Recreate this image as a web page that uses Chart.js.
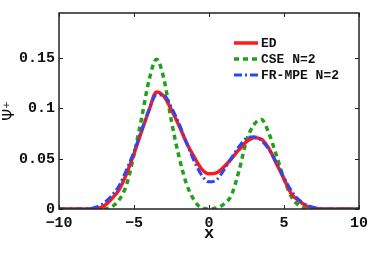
<!DOCTYPE html>
<html>
<head>
<meta charset="utf-8">
<script src="https://cdn.jsdelivr.net/npm/chart.js@4/dist/chart.umd.min.js"></script>
<style>
  html, body { margin: 0; padding: 0; background: #fff; }
  #wrap { width: 374px; height: 253px; }
</style>
</head>
<body>
<div id="wrap"><canvas id="psiChart" width="374" height="253"></canvas></div>
<script>
const xs = [-10, -9.5, -9, -8.5, -8, -7.5, -7, -6.5, -6, -5.5, -5, -4.5, -4, -3.5, -3, -2.5, -2, -1.5, -1, -0.5,
  0, 0.5, 1, 1.5, 2, 2.5, 3, 3.5, 4, 4.5, 5, 5.5, 6, 6.5, 7, 7.5, 8, 8.5, 9, 9.5, 10];
const edValues = [0, 0, 0, 0, 0, 0.0005, 0.003, 0.010, 0.019, 0.035, 0.055, 0.077, 0.098, 0.1165, 0.112, 0.0985, 0.083, 0.066, 0.052, 0.040,
  0.035, 0.036, 0.042, 0.050, 0.059, 0.067, 0.071, 0.0695, 0.060, 0.045, 0.030, 0.015, 0.008, 0.003, 0.001, 0, 0, 0, 0, 0, 0];
const cseValues = [0, 0, 0, 0, 0, 0, 0, 0.002, 0.009, 0.024, 0.054, 0.090, 0.128, 0.149, 0.129, 0.087, 0.052, 0.025, 0.009, 0.001,
  0, 0.001, 0.005, 0.014, 0.038, 0.068, 0.084, 0.089, 0.075, 0.053, 0.030, 0.012, 0.0035, 0.0005, 0, 0, 0, 0, 0, 0, 0];
const frmpeValues = [0, 0, 0, 0, 0.0003, 0.002, 0.006, 0.013, 0.023, 0.039, 0.057, 0.078, 0.099, 0.1135, 0.113, 0.101, 0.085, 0.066, 0.048, 0.034,
  0.027, 0.029, 0.039, 0.051, 0.062, 0.0705, 0.072, 0.068, 0.059, 0.046, 0.031, 0.018, 0.009, 0.004, 0.0015, 0.0003, 0, 0, 0, 0, 0];
const seriesNames = ["ED", "CSE N=2", "FR-MPE N=2"];
const xTickValues = [-10, -5, 0, 5, 10];
const xTickLabels = ["\u221210", "\u22125", "0", "5", "10"];
const yTickValues = [0, 0.05, 0.1, 0.15];
const yTickLabels = ["0", "0.05", "0.1", "0.15"];

const monoBold = { family: "'Liberation Mono', 'DejaVu Sans Mono', monospace", weight: "bold", size: 15 };

function toPoints(vals) {
  return xs.map((x, i) => ({ x: x, y: vals[i] }));
}

// box round the plot with inward tick marks
const framePlugin = {
  id: "frame",
  afterDraw(chart) {
    const { ctx, chartArea: a, scales } = chart;
    ctx.save();
    ctx.strokeStyle = "#222";
    ctx.lineWidth = 1.5;
    ctx.strokeRect(a.left, a.top, a.right - a.left, a.bottom - a.top);
    ctx.lineWidth = 1;
    ctx.beginPath();
    xTickValues.forEach(v => {
      const px = Math.round(scales.x.getPixelForValue(v)) + 0.5;
      ctx.moveTo(px, a.bottom); ctx.lineTo(px, a.bottom - 4);
      ctx.moveTo(px, a.top); ctx.lineTo(px, a.top + 4);
    });
    yTickValues.forEach(v => {
      const py = Math.round(scales.y.getPixelForValue(v)) + 0.5;
      ctx.moveTo(a.left, py); ctx.lineTo(a.left + 4, py);
      ctx.moveTo(a.right, py); ctx.lineTo(a.right - 4, py);
    });
    ctx.stroke();
    ctx.restore();
  },
};

// legend drawn inside the top right of the plot
const legendPlugin = {
  id: "insideLegend",
  afterDraw(chart) {
    const { ctx, chartArea: a } = chart;
    const x0 = a.right - 125, x1 = a.right - 101, tx = a.right - 98;
    const rows = [a.top + 30, a.top + 46, a.top + 62];
    ctx.save();
    chart.data.datasets.forEach((ds, i) => {
      ctx.strokeStyle = ds.borderColor;
      ctx.lineWidth = ds.borderWidth;
      ctx.setLineDash(ds.borderDash || []);
      ctx.beginPath();
      ctx.moveTo(x0, rows[i]);
      ctx.lineTo(x1, rows[i]);
      ctx.stroke();
      ctx.setLineDash([]);
      ctx.fillStyle = "#111";
      ctx.font = "bold 13px 'Liberation Mono', 'DejaVu Sans Mono', monospace";
      ctx.textBaseline = "middle";
      ctx.fillText(seriesNames[i], tx, rows[i] + 1);
    });
    ctx.restore();
  },
};

const psiChart = new Chart(document.getElementById("psiChart"), {
  type: "line",
  data: {
    datasets: [
      {
        label: seriesNames[0],
        data: toPoints(edValues),
        borderColor: "#ff1a1a",
        borderWidth: 3.5,
        pointRadius: 0,
        cubicInterpolationMode: "monotone",
        order: 2,
      },
      {
        label: seriesNames[1],
        data: toPoints(cseValues),
        borderColor: "#22a01a",
        borderWidth: 3.5,
        borderDash: [5, 4],
        pointRadius: 0,
        cubicInterpolationMode: "monotone",
        order: 3,
      },
      {
        label: seriesNames[2],
        data: toPoints(frmpeValues),
        borderColor: "#2a48f0",
        borderWidth: 3,
        borderDash: [8, 3, 2, 3],
        pointRadius: 0,
        cubicInterpolationMode: "monotone",
        order: 1,
      },
    ],
  },
  options: {
    responsive: false,
    animation: false,
    layout: { padding: { top: 11, right: 15, left: 0, bottom: 0 } },
    plugins: {
      legend: { display: false },
      tooltip: { enabled: false },
    },
    scales: {
      x: {
        type: "linear",
        min: -10,
        max: 10,
        afterBuildTicks: (scale) => { scale.ticks = xTickValues.map(v => ({ value: v })); },
        afterFit: (scale) => { scale.height = 44; },
        ticks: {
          color: "#111",
          font: monoBold,
          padding: 5,
          maxRotation: 0,
          callback: (v) => xTickLabels[xTickValues.indexOf(v)],
        },
        grid: { display: false, drawTicks: false },
        border: { display: false },
        title: {
          display: true,
          text: "x",
          color: "#111",
          font: { family: "'Liberation Mono', 'DejaVu Sans Mono', monospace", weight: "bold", size: 17 },
          padding: { top: 0, bottom: 9 },
        },
      },
      y: {
        min: 0,
        max: 0.195,
        afterBuildTicks: (scale) => { scale.ticks = yTickValues.map(v => ({ value: v })); },
        afterFit: (scale) => { scale.width = 59; },
        ticks: {
          color: "#111",
          font: monoBold,
          padding: 4,
          callback: (v) => yTickLabels[yTickValues.indexOf(v)],
        },
        grid: { display: false, drawTicks: false },
        border: { display: false },
        title: {
          display: true,
          text: "\u03A8\u207A",
          color: "#111",
          font: { family: "'DejaVu Sans', sans-serif", size: 15 },
          padding: { top: 1, bottom: 0 },
        },
      },
    },
  },
  plugins: [framePlugin, legendPlugin],
});
</script>
</body>
</html>
